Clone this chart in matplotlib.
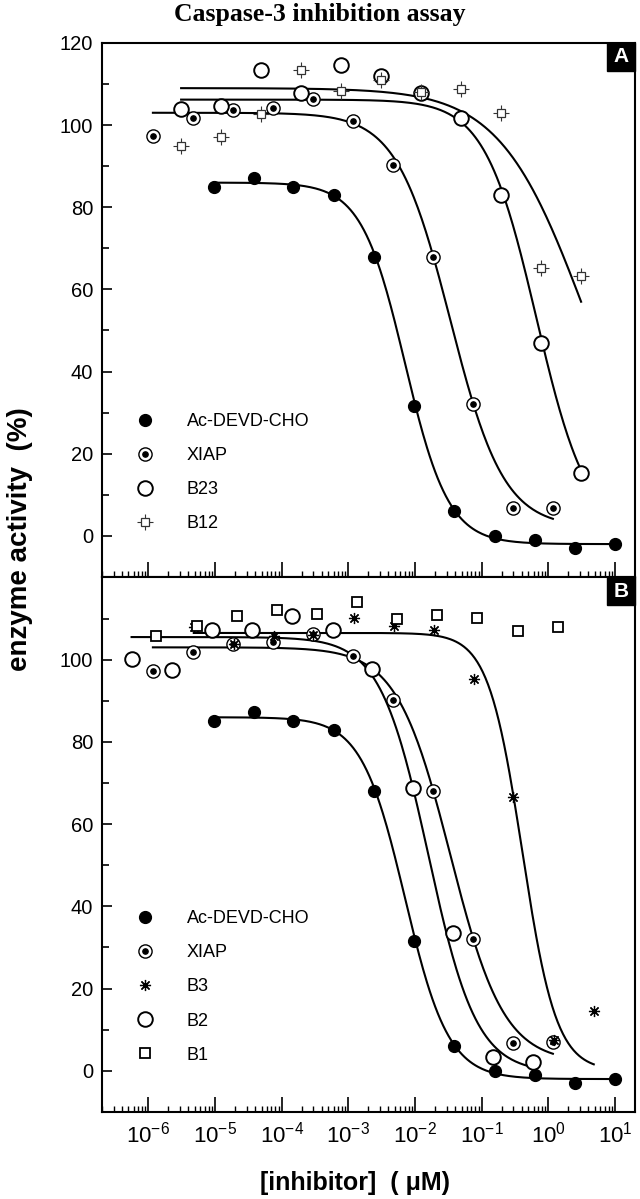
import numpy as np
import matplotlib
matplotlib.use("Agg")
import matplotlib.pyplot as plt
from matplotlib.ticker import MultipleLocator, LogLocator, FixedLocator
from matplotlib.patches import Rectangle

plt.rcParams['font.family'] = ['Liberation Sans', 'DejaVu Sans']
plt.rcParams['mathtext.fontset'] = 'custom'
plt.rcParams['mathtext.rm'] = 'Liberation Sans'
plt.rcParams['mathtext.it'] = 'Liberation Sans:italic'
plt.rcParams['mathtext.bf'] = 'Liberation Sans:bold'
plt.rcParams['mathtext.default'] = 'regular'

# --- data: inhibitor concentration (uM) and enzyme activity (%) ---
devd_x = [9.5e-6, 3.8e-5, 1.5e-4, 6.1e-4, 2.4e-3, 9.8e-3, 3.9e-2, 0.156, 0.625, 2.5, 10.0]
devd_y = [85, 87.2, 85, 83, 68, 31.5, 6, 0, -1, -3, -2]

xiap_x = [1.17e-6, 4.7e-6, 1.87e-5, 7.3e-5, 2.9e-4, 1.17e-3, 4.7e-3, 1.87e-2, 7.3e-2, 0.29, 1.17]
xiap_y = [97.3, 101.8, 103.7, 104.2, 106.3, 100.9, 90.3, 68, 32, 6.8, 6.9]

# panel A
b23_x = [3.1e-6, 1.23e-5, 4.9e-5, 1.96e-4, 7.8e-4, 3.1e-3, 1.23e-2, 4.9e-2, 0.196, 0.78, 3.1]
b23_y = [104, 104.6, 113.3, 107.8, 114.6, 112, 107.8, 101.8, 83.1, 47, 15.2]
b12_x = b23_x
b12_y = [95, 97.1, 102.7, 113.4, 108.4, 111, 108, 108.7, 103, 65.3, 63.2]

# panel B
b3_x = [4.8e-6, 1.9e-5, 7.6e-5, 3.0e-4, 1.2e-3, 4.8e-3, 1.9e-2, 7.6e-2, 0.30, 1.2, 4.8]
b3_y = [107.9, 103.9, 105.7, 106, 110.1, 108.1, 107.3, 95.2, 66.5, 7.4, 14.5]
b2_x = [5.6e-7, 2.25e-6, 9.0e-6, 3.6e-5, 1.44e-4, 5.8e-4, 2.3e-3, 9.2e-3, 3.7e-2, 0.147, 0.59]
b2_y = [100.1, 97.4, 107.2, 107.2, 110.6, 107.1, 97.8, 68.9, 33.5, 3.3, 2.1]
b1_x = [1.32e-6, 5.3e-6, 2.1e-5, 8.4e-5, 3.4e-4, 1.35e-3, 5.4e-3, 2.15e-2, 8.6e-2, 0.345, 1.38]
b1_y = [105.7, 108.1, 110.6, 112, 111.2, 114.1, 109.9, 110.9, 110.2, 106.9, 108]

# four-parameter logistic fits: top, bottom, log10(IC50), Hill slope
devd_fit = [86, -2, -2.15, 1.33]
xiap_fit = [103, 2, -1.47, 1.08]
b23_fit = [106.2, 0, -0.18, 1.12]
b12_fit = [109, 0, 0.55, 0.68]
b2_fit = [105.5, -0.5, -1.8, 1.2]
b3_fit = [106.5, 0, -0.39, 1.7]

x_decades = [1e-6, 1e-5, 1e-4, 1e-3, 1e-2, 1e-1, 1e0, 1e1]


def logistic(x, top, bottom, log_ic50, hill):
    return bottom + (top - bottom) / (1 + 10 ** (hill * (np.log10(x) - log_ic50)))


def fit_curve(ax, xs, params):
    xx = np.logspace(np.log10(xs[0]), np.log10(xs[-1]), 300)
    ax.plot(xx, logistic(xx, *params), color='black', lw=1.5, zorder=2)


def filled(ax, x, y):
    return ax.plot(x, y, 'o', ms=8.5, color='black', ls='none', zorder=3)[0]


def open_circle(ax, x, y):
    return ax.plot(x, y, 'o', ms=10.5, mfc='white', mec='black', mew=1.4, ls='none', zorder=3)[0]


def dotted_circle(ax, x, y):
    a = ax.plot(x, y, 'o', ms=9.5, mfc='white', mec='black', mew=1.0, ls='none', zorder=3)[0]
    b = ax.plot(x, y, 'o', ms=3.8, color='black', ls='none', zorder=3)[0]
    return (a, b)


def cross_square(ax, x, y):
    a = ax.plot(x, y, '+', ms=11, mew=0.8, color='#333333', ls='none', zorder=3)[0]
    b = ax.plot(x, y, 's', ms=5.8, mfc='white', mec='#333333', mew=0.9, ls='none', zorder=3)[0]
    return (a, b)


def square(ax, x, y):
    return ax.plot(x, y, 's', ms=7.5, mfc='white', mec='black', mew=1.3, ls='none', zorder=3)[0]


def asterisk(ax, x, y):
    return ax.plot(x, y, marker=(8, 2, 0), ms=8, mew=0.9, color='black', ls='none', zorder=3)[0]


def style_axes(ax, label):
    ax.set_xscale('log')
    ax.set_xlim(10 ** -6.7, 10 ** 1.3)
    ax.set_ylim(-10, 120)
    ax.yaxis.set_major_locator(MultipleLocator(20))
    ax.yaxis.set_minor_locator(MultipleLocator(10))
    ax.xaxis.set_major_locator(FixedLocator(x_decades))
    ax.xaxis.set_minor_locator(LogLocator(base=10, subs=np.arange(2, 10), numticks=20))
    ax.tick_params(which='both', direction='in', top=False, right=False)
    ax.tick_params(axis='y', which='major', length=7, width=1.2, labelsize=14.5, pad=6)
    ax.tick_params(axis='y', which='minor', length=5, width=1.2)
    ax.tick_params(axis='x', which='major', length=11, width=1.2, labelsize=16, pad=7)
    ax.tick_params(axis='x', which='minor', length=4, width=1.0)
    for s in ax.spines.values():
        s.set_linewidth(1.5)
    # panel letter in black box, top-right corner
    w, h = 0.0525, 0.0524
    ax.add_patch(Rectangle((1 - w, 1 - h), w, h, transform=ax.transAxes,
                           facecolor='black', edgecolor='black', zorder=5, clip_on=False))
    ax.text(1 - w / 2, 1 - h / 2, label, transform=ax.transAxes, color='white',
            fontsize=15, fontweight='bold', ha='center', va='center', zorder=6)


fig = plt.figure(figsize=(6.4, 11.99), dpi=100)
ax1 = fig.add_axes([0.1589, 0.5188, 0.8333, 0.4454])
ax2 = fig.add_axes([0.1589, 0.0726, 0.8333, 0.4458])

# ---- panel A ----
fit_curve(ax1, devd_x, devd_fit)
fit_curve(ax1, xiap_x, xiap_fit)
fit_curve(ax1, b23_x, b23_fit)
fit_curve(ax1, b12_x, b12_fit)
hA1 = filled(ax1, devd_x, devd_y)
hA2 = dotted_circle(ax1, xiap_x, xiap_y)
hA3 = open_circle(ax1, b23_x, b23_y)
hA4 = cross_square(ax1, b12_x, b12_y)
style_axes(ax1, 'A')
ax1.tick_params(labelbottom=False)
ax1.legend([hA1, hA2, hA3, hA4], ['Ac-DEVD-CHO', 'XIAP', 'B23', 'B12'],
           loc='upper left', bbox_to_anchor=(0.0643, 0.307), frameon=False,
           fontsize=13, handlelength=1.0, handletextpad=1.8, labelspacing=0.95,
           borderpad=0, borderaxespad=0)

# ---- panel B ----
fit_curve(ax2, devd_x, devd_fit)
fit_curve(ax2, xiap_x, xiap_fit)
fit_curve(ax2, b2_x, b2_fit)
fit_curve(ax2, b3_x, b3_fit)
hB1 = filled(ax2, devd_x, devd_y)
hB2 = dotted_circle(ax2, xiap_x, xiap_y)
hB3 = asterisk(ax2, b3_x, b3_y)
hB4 = open_circle(ax2, b2_x, b2_y)
hB5 = square(ax2, b1_x, b1_y)
style_axes(ax2, 'B')
ax2.set_yticks([0, 20, 40, 60, 80, 100])
ax2.legend([hB1, hB2, hB3, hB4, hB5], ['Ac-DEVD-CHO', 'XIAP', 'B3', 'B2', 'B1'],
           loc='upper left', bbox_to_anchor=(0.0643, 0.3776), frameon=False,
           fontsize=13, handlelength=1.0, handletextpad=1.8, labelspacing=0.95,
           borderpad=0, borderaxespad=0)

fig.text(0.5, 0.9875, 'Caspase-3 inhibition assay', family='Liberation Serif',
         fontweight='bold', fontsize=18.5, ha='center', va='center')
fig.text(0.031, 0.55, 'enzyme activity  (%)', rotation=90, fontsize=20,
         fontweight='bold', ha='center', va='center')
fig.text(0.555, 0.0133, '[inhibitor]  ( \u03bcM)', fontsize=18, fontweight='bold',
         ha='center', va='center')

fig.savefig('out.png', dpi=100)
